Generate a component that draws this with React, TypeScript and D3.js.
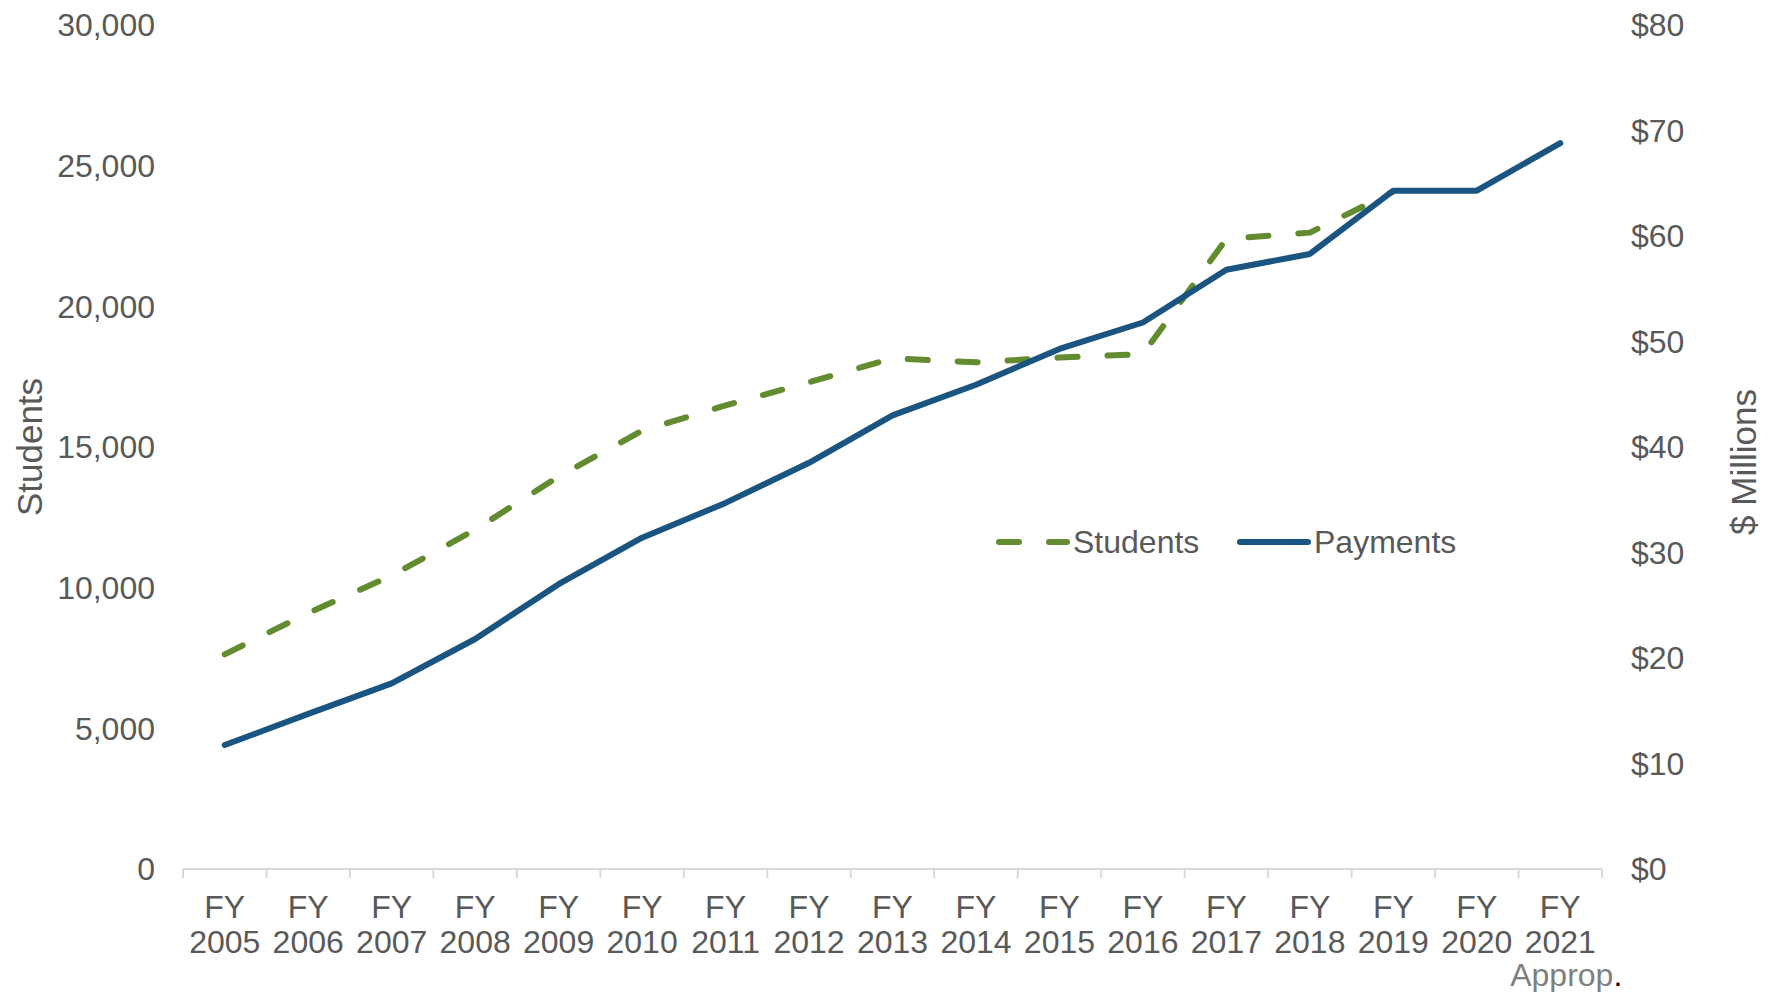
import React from 'react';
import * as d3 from 'd3';

const years = ['2005', '2006', '2007', '2008', '2009', '2010', '2011', '2012', '2013', '2014', '2015', '2016', '2017', '2018', '2019', '2020', '2021'];
// students, fiscal years 2005-2019
const students = [7630, 9100, 10430, 12060, 13950, 15580, 16480, 17300, 18150, 18010, 18180, 18300, 22400, 22620, 24080];
// payments, $ millions
const payments = [11.75, 14.7, 17.6, 21.8, 27.0, 31.4, 34.7, 38.5, 43.0, 45.9, 49.3, 51.8, 56.8, 58.3, 64.3, 64.3, 68.8];
const studentTicks = [0, 5000, 10000, 15000, 20000, 25000, 30000];
const dollarTicks = [0, 10, 20, 30, 40, 50, 60, 70, 80];

const W = 1771;
const H = 992;
const FONT = '"Liberation Sans", Arial, sans-serif';
const GREEN = '#638b2f';
const BLUE = '#1a5480';
const TEXT = '#595959';

export default function App() {
  const x = d3.scaleBand<string>().domain(years).range([183, 1602]).padding(0);
  const yLeft = d3.scaleLinear().domain([0, 30000]).range([869, 25]);
  const yRight = d3.scaleLinear().domain([0, 80]).range([869, 25]);
  const cx = (i: number) => (x(years[i]) as number) + x.bandwidth() / 2;

  const studentLine = d3.line<number>().x((_, i) => cx(i)).y(d => yLeft(d));
  const paymentLine = d3.line<number>().x((_, i) => cx(i)).y(d => yRight(d));
  const fmt = d3.format(',');

  const boundaries = years.map(y => x(y) as number).concat([x.range()[1]]);
  const base = yLeft(0);

  return (
    <svg width={W} height={H} style={{ position: 'absolute', left: 0, top: 0, background: '#fff' }} fontFamily={FONT}>
      {/* x axis */}
      <line x1={x.range()[0]} x2={x.range()[1]} y1={base} y2={base} stroke="#d9d9d9" strokeWidth={2} />
      {boundaries.map((b, i) => (
        <line key={i} x1={b} x2={b} y1={base} y2={base + 9} stroke="#d9d9d9" strokeWidth={2} />
      ))}
      {years.map((yr, i) => (
        <text key={yr} x={cx(i)} textAnchor="middle" fill={TEXT} fontSize={32}>
          <tspan x={cx(i)} y={918}>FY</tspan>
          <tspan x={cx(i)} y={953}>{yr}</tspan>
        </text>
      ))}
      <text x={cx(years.length - 1) + 6} y={986} textAnchor="middle" fontSize={32}>
        <tspan fill="#7f7f7f">Approp</tspan><tspan fill="#000">.</tspan>
      </text>

      {/* left axis */}
      {studentTicks.map(t => (
        <text key={t} x={155} y={yLeft(t)} dy="0.35em" textAnchor="end" fill={TEXT} fontSize={32}>{fmt(t)}</text>
      ))}
      <text transform={`translate(30,447) rotate(-90)`} textAnchor="middle" dy="0.35em" fill={TEXT} fontSize={35}>Students</text>

      {/* right axis */}
      {dollarTicks.map(t => (
        <text key={t} x={1631} y={yRight(t)} dy="0.35em" textAnchor="start" fill={TEXT} fontSize={32}>{'$' + t}</text>
      ))}
      <text transform={`translate(1744,462) rotate(-90)`} textAnchor="middle" dy="0.35em" fill={TEXT} fontSize={35}>$ Millions</text>

      {/* series */}
      <path d={studentLine(students) || ''} fill="none" stroke={GREEN} strokeWidth={6} strokeDasharray="20,30" strokeLinecap="round" strokeLinejoin="round" />
      <path d={paymentLine(payments) || ''} fill="none" stroke={BLUE} strokeWidth={6} strokeLinecap="round" strokeLinejoin="round" />

      {/* legend */}
      <g transform="translate(0,542)">
        <line x1={999} x2={1067} y1={0} y2={0} stroke={GREEN} strokeWidth={6} strokeDasharray="20,30" strokeLinecap="round" />
        <text x={1073} y={0} dy="0.35em" fill={TEXT} fontSize={32}>Students</text>
        <line x1={1240} x2={1308} y1={0} y2={0} stroke={BLUE} strokeWidth={6} strokeLinecap="round" />
        <text x={1314} y={0} dy="0.35em" fill={TEXT} fontSize={32}>Payments</text>
      </g>
    </svg>
  );
}
